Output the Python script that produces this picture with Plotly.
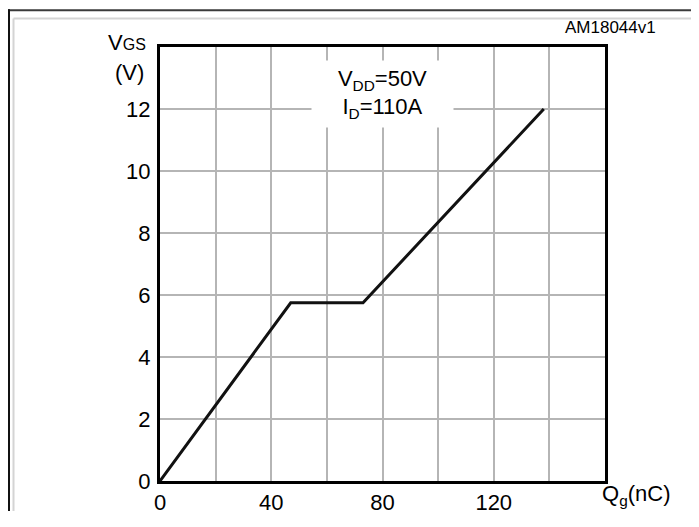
import plotly.graph_objects as go

# Data
qg_nc = [0, 47, 73, 138]
vgs_v = [0, 5.75, 5.75, 12]
x_ticks = [0, 20, 40, 60, 80, 100, 120, 140, 160]
x_labels = ["0", "", "40", "", "80", "", "120", "", ""]
y_ticks = [0, 2, 4, 6, 8, 10, 12, 14]
y_labels = ["0", "2", "4", "6", "8", "10", "12", ""]

# The page body keeps an 8px margin: figure pixel = page pixel - 8.
OFF = 8
W, H = 699 - OFF, 527 - OFF
PL, PR, PT, PB = 160, 605, 47, 496          # plot-area edges in page pixels
L, R, T, B = PL - OFF, W - (PR - OFF), PT - OFF, H - (PB - OFF)
pw, ph = W - L - R, H - T - B

def px(x):  # page pixel -> paper
    return (x - OFF - L) / pw

def py(y):
    return (H - B - (y - OFF)) / ph

FONT = "Liberation Sans, Arial, sans-serif"

fig = go.Figure()
fig.add_trace(go.Scatter(x=qg_nc, y=vgs_v, mode="lines",
                         line=dict(color="#111111", width=3), showlegend=False,
                         hoverinfo="skip"))

axis_common = dict(showline=True, linecolor="black", linewidth=3, mirror=True,
                   showgrid=True, gridcolor="#b5b5b5", gridwidth=2,
                   zeroline=False, ticks="", tickfont=dict(family=FONT, size=22, color="black"))

fig.update_xaxes(range=[0, 160], tickmode="array", tickvals=x_ticks, ticktext=x_labels,
                 **axis_common)
fig.update_yaxes(range=[0, 14], tickmode="array", tickvals=y_ticks, ticktext=y_labels,
                 ticklabelstandoff=2, **axis_common)

shapes = [
    # outer dark frame
    dict(type="line", xref="paper", yref="paper", x0=px(8), x1=px(699), y0=py(9), y1=py(9),
         line=dict(color="#3a3a3a", width=2)),
    dict(type="line", xref="paper", yref="paper", x0=px(9), x1=px(9), y0=py(8), y1=py(527),
         line=dict(color="#111111", width=2)),
    # inner light frame
    dict(type="line", xref="paper", yref="paper", x0=px(13.5), x1=px(696), y0=py(17.5), y1=py(17.5),
         line=dict(color="#d4d4d4", width=2)),
    dict(type="line", xref="paper", yref="paper", x0=px(13.5), x1=px(13.5), y0=py(17.5), y1=py(527),
         line=dict(color="#d4d4d4", width=2)),
    dict(type="line", xref="paper", yref="paper", x0=px(696), x1=px(696), y0=py(17.5), y1=py(527),
         line=dict(color="#d4d4d4", width=2)),
]

annotations = [
    dict(x=80, y=12.5, xref="x", yref="y", showarrow=False,
         text="V<sub>DD</sub>=50V<br>I<sub>D</sub>=110A",
         font=dict(family=FONT, size=22, color="black"),
         bgcolor="white", width=139, height=64, align="center"),
    dict(x=px(106), y=py(42), xref="paper", yref="paper", xanchor="left", yanchor="middle",
         showarrow=False, text="V<span style='font-size:16px'>GS</span>",
         font=dict(family=FONT, size=22, color="black")),
    dict(x=px(129), y=py(73), xref="paper", yref="paper", xanchor="center", yanchor="middle",
         showarrow=False, text="(V)", font=dict(family=FONT, size=22, color="black")),
    dict(x=px(563), y=py(27), xref="paper", yref="paper", xanchor="left", yanchor="middle",
         showarrow=False, text="AM18044v1", font=dict(family=FONT, size=17, color="black")),
    dict(x=px(600), y=py(510), xref="paper", yref="paper", xanchor="left", yanchor="middle",
         showarrow=False, text="Q<sub>g</sub>(nC)", font=dict(family=FONT, size=22, color="black")),
]

fig.update_layout(width=W, height=H, margin=dict(l=L, r=R, t=T, b=B),
                  paper_bgcolor="white", plot_bgcolor="white",
                  shapes=shapes, annotations=annotations,
                  font=dict(family=FONT, color="black"))

fig.write_html("out.html", config={"displayModeBar": False})
